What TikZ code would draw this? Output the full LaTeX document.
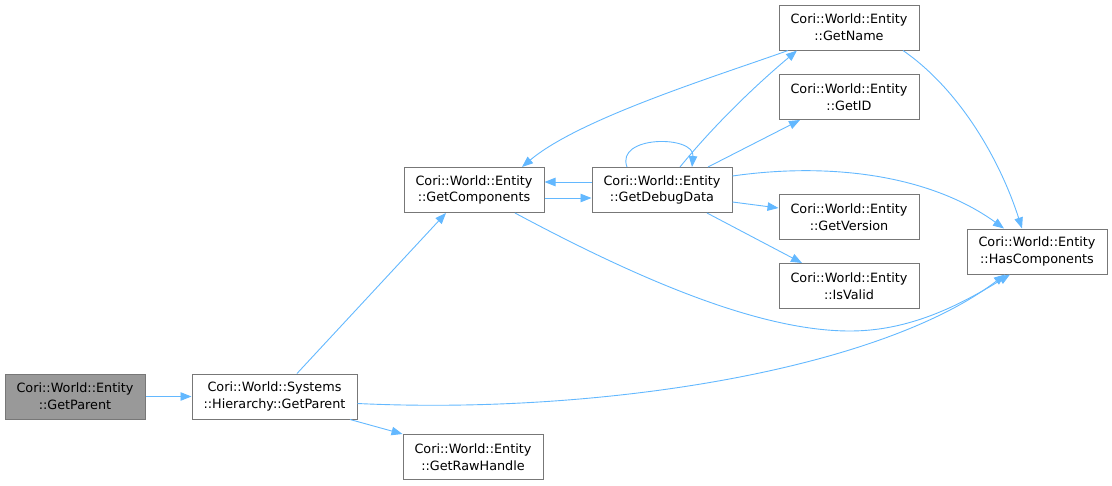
\documentclass[tikz,border=0pt]{standalone}
\usepackage{fontspec}
\setmainfont{DejaVu Sans}
\usetikzlibrary{arrows.meta}
\definecolor{edgec}{HTML}{63B8FF}
\definecolor{bord}{HTML}{777777}
\definecolor{fillg}{HTML}{999999}
\begin{document}
\begin{tikzpicture}[x=1pt,y=-1pt,
  fn/.style={draw=bord, line width=1pt, fill=white, rectangle, minimum width=140pt, minimum height=45pt, inner sep=0pt, align=center, font=\fontsize{12.8}{16.7}\selectfont},
  e/.style={draw=edgec, line width=0.9pt, -{Triangle[length=11pt,width=8.5pt]}}]
\useasboundingbox (0,0) rectangle (1112,485);
\node[fn, fill=fillg] (n1) at (75,396.5) {Cori::World::Entity\\::GetParent};
\node[fn, minimum width=165pt] (n2) at (274.5,396.5) {Cori::World::Systems\\::Hierarchy::GetParent};
\node[fn] (comp) at (474,190) {Cori::World::Entity\\::GetComponents};
\node[fn] (raw) at (473,457) {Cori::World::Entity\\::GetRawHandle};
\node[fn] (dbg) at (662,190) {Cori::World::Entity\\::GetDebugData};
\node[fn] (name) at (849,27.5) {Cori::World::Entity\\::GetName};
\node[fn] (id) at (849,97) {Cori::World::Entity\\::GetID};
\node[fn] (ver) at (849,217) {Cori::World::Entity\\::GetVersion};
\node[fn] (valid) at (849,286) {Cori::World::Entity\\::IsValid};
\node[fn] (has) at (1037,251.5) {Cori::World::Entity\\::HasComponents};

\draw[e] (n1) -- (n2);
\draw[e] ([xshift=22.5pt]n2.north) -- ([xshift=-28pt]comp.south);
\draw[e] ([xshift=75.5pt]n2.south) -- (raw.north west);
\draw[e] ([yshift=-7pt]n2.east) .. controls (600,415) and (880,370) .. ([xshift=-32pt]has.south);
\draw[e] ([yshift=-8pt]comp.east) -- ([yshift=-8pt]dbg.west);
\draw[e] ([yshift=8pt]dbg.west) -- ([yshift=8pt]comp.east);
\draw[e] ([xshift=-61pt]name.south) .. controls (720,75) and (580,118) .. ([xshift=48pt]comp.north);
\draw[e] ([xshift=18pt]dbg.north) .. controls (710,130) and (750,90) .. ([xshift=-52pt]name.south);
\draw[e] ([xshift=-35pt]dbg.north) .. controls (615,135) and (695,135) .. ([xshift=30pt]dbg.north);
\draw[e] ([xshift=46pt]dbg.north) -- ([xshift=-49pt]id.south);
\draw[e] ([yshift=14pt]dbg.east) .. controls (830,162) and (930,175) .. ([xshift=-33pt]has.north);
\draw[e] ([yshift=-12pt]dbg.east) -- ([yshift=9pt]ver.west);
\draw[e] ([xshift=45pt]dbg.south) -- ([xshift=-47pt]valid.north);
\draw[e] ([xshift=54pt]name.south) .. controls (960,90) and (1000,160) .. ([xshift=-15pt]has.north);
\draw[e] ([xshift=41pt]comp.south) .. controls (640,280) and (760,331) .. (850,331) .. controls (910,331) and (960,305) .. ([xshift=-27pt]has.south);
\end{tikzpicture}
\end{document}
